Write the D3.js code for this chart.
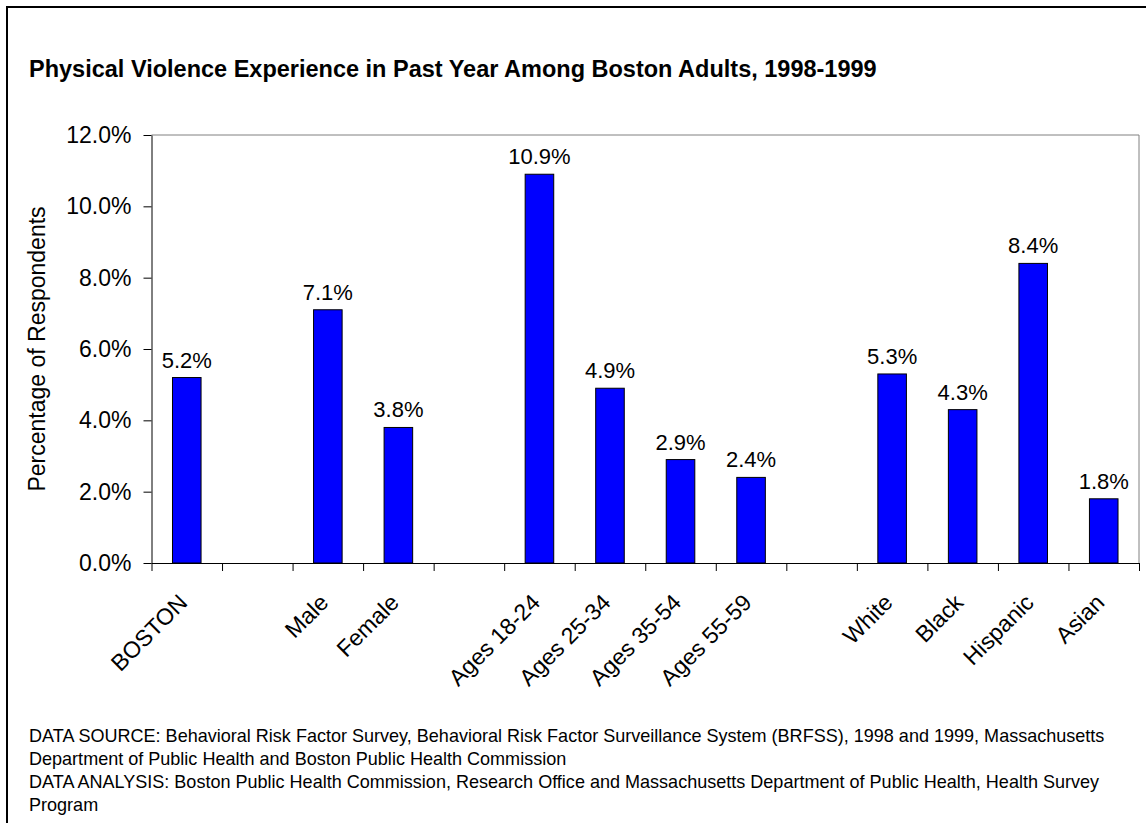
<!DOCTYPE html>
<html>
<head>
<meta charset="utf-8">
<script src="https://cdn.jsdelivr.net/npm/d3@7"></script>
<style>
  html, body { margin: 0; padding: 0; background: #fff; }
  svg { display: block; }
  text { font-family: "Liberation Sans", Arial, sans-serif; fill: #000; }
</style>
</head>
<body>
<svg id="chart" width="1146" height="823"></svg>
<script>
// Chart data
const categories = ["BOSTON", "", "Male", "Female", "", "Ages 18-24", "Ages 25-34", "Ages 35-54", "Ages 55-59", "", "White", "Black", "Hispanic", "Asian"];
const values = [5.2, null, 7.1, 3.8, null, 10.9, 4.9, 2.9, 2.4, null, 5.3, 4.3, 8.4, 1.8];
const yTicks = [0, 2, 4, 6, 8, 10, 12];
const titleText = "Physical Violence Experience in Past Year Among Boston Adults, 1998-1999";
const yAxisTitle = "Percentage of Respondents";
const footnotes = [
  "DATA SOURCE: Behavioral Risk Factor Survey, Behavioral Risk Factor Surveillance System (BRFSS), 1998 and 1999, Massachusetts",
  "Department of Public Health and Boston Public Health Commission",
  "DATA ANALYSIS: Boston Public Health Commission, Research Office and Massachusetts Department of Public Health, Health Survey",
  "Program"
];

const svg = d3.select("#chart");
const W = 1146, H = 823;
const plot = { left: 151.5, right: 1139, top: 135, bottom: 563 };

svg.append("rect").attr("width", W).attr("height", H).attr("fill", "#fff");

// Outer chart frame (right/bottom edges fall outside the canvas)
svg.append("rect")
  .attr("x", 7).attr("y", 7)
  .attr("width", W + 20).attr("height", H + 20)
  .attr("fill", "none").attr("stroke", "#000").attr("stroke-width", 2);

// Title
svg.append("text")
  .attr("x", 29).attr("y", 77)
  .style("font-size", "23.5px").style("font-weight", "bold")
  .text(titleText);

const idx = d3.range(categories.length);
const x = d3.scaleBand().domain(idx).range([plot.left, plot.right]).paddingInner(0).paddingOuter(0);
const y = d3.scaleLinear().domain([0, 12]).range([plot.bottom, plot.top]);
const bw = x.bandwidth();
const barW = bw * 0.405;

// Plot area frame (top and right)
svg.append("path")
  .attr("d", `M${plot.left},${plot.top}H${plot.right}V${plot.bottom}`)
  .attr("fill", "none").attr("stroke", "#808080").attr("stroke-width", 1);

// Bars
svg.append("g").selectAll("rect")
  .data(idx.filter(i => values[i] != null))
  .join("rect")
  .attr("x", i => x(i) + (bw - barW) / 2)
  .attr("y", i => y(values[i]))
  .attr("width", barW)
  .attr("height", i => y(0) - y(values[i]))
  .attr("fill", "#0000ff")
  .attr("stroke", "#000").attr("stroke-width", 1);

// Value labels
svg.append("g").selectAll("text")
  .data(idx.filter(i => values[i] != null))
  .join("text")
  .attr("x", i => x(i) + bw / 2)
  .attr("y", i => y(values[i]) - 10)
  .attr("text-anchor", "middle")
  .style("font-size", "22px")
  .text(i => values[i].toFixed(1) + "%");

// Y axis
const yAxis = svg.append("g")
  .attr("transform", `translate(${plot.left},0)`)
  .call(d3.axisLeft(y).tickValues(yTicks).tickFormat(d => d.toFixed(1) + "%").tickSize(8).tickSizeOuter(0).tickPadding(12));
yAxis.selectAll("text").style("font-size", "23px").attr("fill", "#000");
yAxis.selectAll("line, path").attr("stroke", "#000");

// X axis with ticks at category boundaries
const xb = d3.scaleLinear().domain([0, categories.length]).range([plot.left, plot.right]);
const xAxis = svg.append("g")
  .attr("transform", `translate(0,${plot.bottom})`)
  .call(d3.axisBottom(xb).tickValues(d3.range(categories.length + 1)).tickFormat("").tickSize(8).tickSizeOuter(0));
xAxis.selectAll("line, path").attr("stroke", "#000");

// Category labels, rotated
svg.append("g").selectAll("text")
  .data(idx.filter(i => categories[i] !== ""))
  .join("text")
  .attr("transform", i => `translate(${x(i) + bw / 2 + 2},${plot.bottom + 41}) rotate(-45)`)
  .attr("text-anchor", "end")
  .style("font-size", "23px")
  .text(i => categories[i]);

// Y axis title
svg.append("text")
  .attr("transform", `translate(45,${(plot.top + plot.bottom) / 2}) rotate(-90)`)
  .attr("text-anchor", "middle")
  .style("font-size", "23px")
  .text(yAxisTitle);

// Footnotes (slightly condensed type)
svg.append("g")
  .attr("transform", "translate(29,0) scale(0.975,1)")
  .selectAll("text")
  .data(footnotes)
  .join("text")
  .attr("x", 0)
  .attr("y", (d, i) => 742 + i * 23)
  .style("font-size", "18.5px")
  .text(d => d);
</script>
</body>
</html>
